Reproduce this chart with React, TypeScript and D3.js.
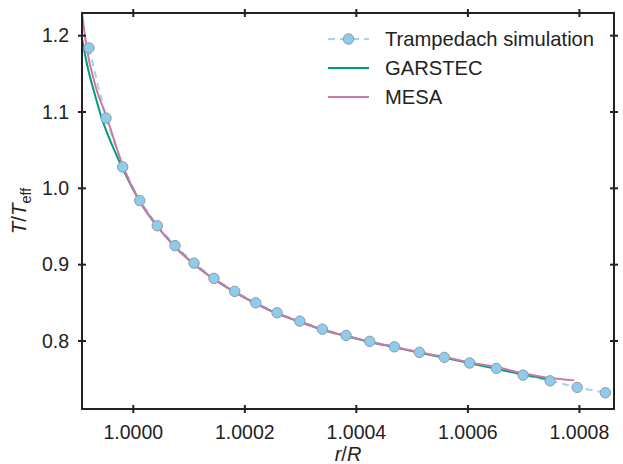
import React from "react";
import * as d3 from "d3";

// x values are (r/R - 1) * 1e4
const simX = [-0.795, -0.49, -0.19, 0.115, 0.43, 0.748, 1.089, 1.447, 1.819, 2.196, 2.578, 2.985, 3.39, 3.815, 4.24, 4.682, 5.13, 5.578, 6.03, 6.511, 6.99, 7.474, 7.959, 8.466];
const simY = [1.184, 1.092, 1.028, 0.984, 0.951, 0.925, 0.902, 0.882, 0.865, 0.850, 0.837, 0.826, 0.8155, 0.8073, 0.7995, 0.7924, 0.7851, 0.7785, 0.7712, 0.7641, 0.7553, 0.7478, 0.7392, 0.7321];

const garX = [-0.915, -0.86, -0.807, -0.687, -0.567, -0.44, -0.316, -0.203, 0.111, 0.43, 0.748, 1.089, 1.447, 1.819, 2.196, 2.578, 2.985, 3.39, 3.815, 4.24, 4.682, 5.13, 5.578, 6.03, 6.511, 6.99, 7.451];
const garY = [1.1944, 1.173, 1.155, 1.1223, 1.0921, 1.067, 1.0459, 1.0279, 0.9835, 0.950, 0.9235, 0.9005, 0.881, 0.864, 0.849, 0.836, 0.8252, 0.8147, 0.8066, 0.7988, 0.7918, 0.7846, 0.778, 0.771, 0.7635, 0.7562, 0.7497];

const mesaX = [-0.915, -0.836, -0.674, -0.472, -0.179, 0.102, 0.43, 0.748, 1.089, 1.447, 1.819, 2.196, 2.578, 2.985, 3.39, 3.815, 4.24, 4.682, 5.13, 5.578, 6.03, 6.511, 6.99, 7.474, 7.905];
const mesaY = [1.2271, 1.1839, 1.1332, 1.0921, 1.0279, 0.9847, 0.950, 0.9235, 0.9005, 0.881, 0.864, 0.849, 0.836, 0.8252, 0.8147, 0.8066, 0.799, 0.7922, 0.7852, 0.779, 0.772, 0.7658, 0.7576, 0.7514, 0.7484];

const xTicks = [0, 2, 4, 6, 8];
const xTickLabels = ["1.0000", "1.0002", "1.0004", "1.0006", "1.0008"];
const yTicks = [0.8, 0.9, 1.0, 1.1, 1.2];
const yTickLabels = ["0.8", "0.9", "1.0", "1.1", "1.2"];

const legendLabels = ["Trampedach simulation", "GARSTEC", "MESA"];

const W = 623, H = 464;
const L = 82, R = 614, T = 13, B = 409;
const FONT = "'Liberation Sans', Arial, sans-serif";
const TXT = "#222";
const AX = "#222";
const C_SIM = "#9fd4f2";
const C_MARK = "#8fcbec";
const C_GAR = "#009E73";
const C_MESA = "#CC79A7";

export default function App() {
  const x = d3.scaleLinear().domain([-0.92, 8.62]).range([L, R]);
  const y = d3.scaleLinear().domain([0.7109, 1.2297]).range([B, T]);
  const line = d3.line<[number, number]>().x(d => x(d[0])).y(d => y(d[1])).curve(d3.curveMonotoneX);

  const sim: [number, number][] = simX.map((v, i) => [v, simY[i]]);
  const gar: [number, number][] = garX.map((v, i) => [v, garY[i]]);
  const mesa: [number, number][] = mesaX.map((v, i) => [v, mesaY[i]]);
  const simLine = d3.line<[number, number]>().x(d => x(d[0])).y(d => y(d[1]));

  return (
    <svg width={W} height={H} style={{ position: "absolute", left: 0, top: 0 }}>
      <defs>
        <clipPath id="plot">
          <rect x={L} y={T} width={R - L} height={B - T} />
        </clipPath>
      </defs>
      <rect x={0} y={0} width={W} height={H} fill="white" />
      <g clipPath="url(#plot)">
        <path d={simLine(sim) || ""} fill="none" stroke={C_SIM} strokeWidth={2} strokeDasharray="7,5" />
        <path d={line(gar) || ""} fill="none" stroke={C_GAR} strokeWidth={2} />
        <path d={line(mesa) || ""} fill="none" stroke={C_MESA} strokeWidth={2} />
        {sim.map((d, i) => (
          <circle key={i} cx={x(d[0])} cy={y(d[1])} r={5.2} fill={C_MARK} stroke="#8d9aa5" strokeWidth={1} />
        ))}
      </g>
      {/* frame */}
      <rect x={L} y={T} width={R - L} height={B - T} fill="none" stroke={AX} strokeWidth={2} />
      {xTicks.map((t, i) => (
        <g key={"x" + i}>
          <line x1={x(t)} x2={x(t)} y1={B - 4} y2={B + 4} stroke={AX} strokeWidth={2} />
          <line x1={x(t)} x2={x(t)} y1={T - 4} y2={T + 4} stroke={AX} strokeWidth={2} />
          <text x={x(t)} y={438.5} textAnchor="middle" fontFamily={FONT} fontSize={19.5} fill={TXT}>{xTickLabels[i]}</text>
        </g>
      ))}
      {yTicks.map((t, i) => (
        <g key={"y" + i}>
          <line x1={L - 4} x2={L + 4} y1={y(t)} y2={y(t)} stroke={AX} strokeWidth={2} />
          <line x1={R - 4} x2={R + 4} y1={y(t)} y2={y(t)} stroke={AX} strokeWidth={2} />
          <text x={69} y={y(t)} dy="0.35em" textAnchor="end" fontFamily={FONT} fontSize={19.5} fill={TXT}>{yTickLabels[i]}</text>
        </g>
      ))}
      <text x={(L + R) / 2} y={461} textAnchor="middle" fontFamily={FONT} fontSize={20} fill={TXT}>
        <tspan fontStyle="italic">r</tspan>/<tspan fontStyle="italic">R</tspan>
      </text>
      <text transform={`translate(26,${(T + B) / 2}) rotate(-90)`} textAnchor="middle" fontFamily={FONT} fontSize={20.5} fill={TXT}>
        <tspan fontStyle="italic">T</tspan>/<tspan fontStyle="italic">T</tspan>
        <tspan fontSize={14.5} dy={5}>eff</tspan>
      </text>
      {/* legend */}
      {legendLabels.map((lab, i) => {
        const ly = [39, 68, 97][i];
        return (
          <g key={"l" + i}>
            {i === 0 ? (
              <>
                <line x1={328} x2={369} y1={ly} y2={ly} stroke={C_SIM} strokeWidth={2} strokeDasharray="7,5" />
                <circle cx={348.5} cy={ly} r={5.2} fill={C_MARK} stroke="#8d9aa5" strokeWidth={1} />
              </>
            ) : (
              <line x1={328} x2={369} y1={ly} y2={ly} stroke={i === 1 ? C_GAR : C_MESA} strokeWidth={2} />
            )}
            <text x={385} y={ly} dy="0.35em" fontFamily={FONT} fontSize={20.2} fill={TXT}>{lab}</text>
          </g>
        );
      })}
    </svg>
  );
}
